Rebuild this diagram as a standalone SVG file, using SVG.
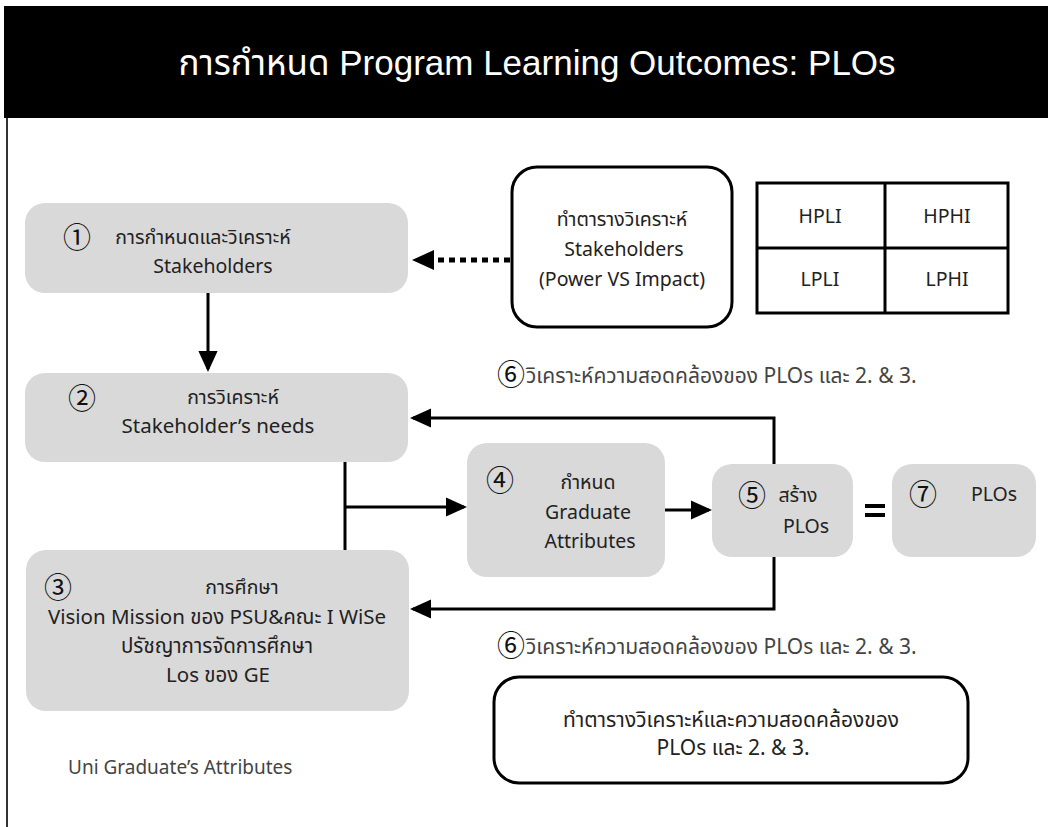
<svg xmlns="http://www.w3.org/2000/svg" width="1048" height="827" viewBox="0 0 1048 827">
<style>
text{font-family:"Noto Sans Thai","Noto Sans","Liberation Sans","DejaVu Sans",sans-serif;fill:#222;font-size:19.5px;text-anchor:middle;dominant-baseline:central}
.num{font-family:"Noto Sans CJK JP","DejaVu Sans",sans-serif;font-size:28px;fill:#111}
.node{fill:#d9d9d9}
.box{fill:#fff;stroke:#000;stroke-width:3}
.ln{fill:none;stroke:#000;stroke-width:3}
.title{fill:#fff;font-size:35px;font-family:"Liberation Sans","Noto Sans Thai",sans-serif}
.note{fill:#444;font-size:21px;text-anchor:start}
.big{font-size:20.5px}
</style>
<defs>
<marker id="ah" markerWidth="7" markerHeight="7" refX="6" refY="3.5" orient="auto" markerUnits="strokeWidth">
<path d="M0,0.3 L7,3.5 L0,6.7 Z" fill="#000"/>
</marker>
</defs>
<rect width="1048" height="827" fill="#fff"/>
<g id="header">
<rect x="4" y="6" width="1044" height="112" fill="#000"/>
<text class="title" x="537" y="62">การกำหนด Program Learning Outcomes: PLOs</text>
</g>
<line x1="7" y1="118" x2="7" y2="827" stroke="#333" stroke-width="2"/>

<g id="connectors">
<line class="ln" x1="208" y1="293" x2="208" y2="369" marker-end="url(#ah)"/>
<line x1="510" y1="260" x2="432" y2="260" stroke="#000" stroke-width="5" stroke-dasharray="6,5"/>
<path d="M412,260 L434,250 L434,270 Z" fill="#000"/>
<path class="ln" d="M345,462 V550"/>
<line class="ln" x1="345" y1="507" x2="464" y2="507" marker-end="url(#ah)"/>
<line class="ln" x1="665" y1="510" x2="709" y2="510" marker-end="url(#ah)"/>
<path class="ln" d="M774,464 V418 H413" marker-end="url(#ah)"/>
<path class="ln" d="M774,557 V609 H413" marker-end="url(#ah)"/>
</g>

<g id="node1">
<rect class="node" x="25" y="203" width="383" height="90" rx="20"/>
<text class="num" x="77" y="236">①</text>
<text x="203" y="238">การกำหนดและวิเคราะห์</text>
<text x="213" y="267">Stakeholders</text>
</g>

<g id="stakeholder-table-box">
<rect class="box" x="512" y="167" width="220" height="160" rx="25"/>
<text x="622" y="220">ทำตารางวิเคราะห์</text>
<text x="624" y="250">Stakeholders</text>
<text x="622" y="280">(Power VS Impact)</text>
</g>

<g id="matrix">
<rect x="757" y="183" width="251" height="130" fill="#fff" stroke="#000" stroke-width="3"/>
<line x1="885" y1="183" x2="885" y2="313" stroke="#000" stroke-width="3"/>
<line x1="757" y1="248" x2="1008" y2="248" stroke="#000" stroke-width="3"/>
<text x="820" y="217" font-size="20">HPLI</text>
<text x="947" y="217" font-size="20">HPHI</text>
<text x="820" y="280" font-size="20">LPLI</text>
<text x="947" y="280" font-size="20">LPHI</text>
</g>

<g id="label6-top">
<text class="num" x="511" y="373">⑥</text>
<text class="note" x="526" y="376">วิเคราะห์ความสอดคล้องของ PLOs และ 2. &amp; 3.</text>
</g>

<g id="node2">
<rect class="node" x="25" y="373" width="383" height="89" rx="20"/>
<text class="num" x="82" y="397">②</text>
<text x="233" y="398">การวิเคราะห์</text>
<text class="big" x="218" y="426">Stakeholder’s needs</text>
</g>

<g id="node4">
<rect class="node" x="467" y="443" width="198" height="134" rx="20"/>
<text class="num" x="500" y="479">④</text>
<text x="588" y="483">กำหนด</text>
<text x="588" y="513">Graduate</text>
<text x="590" y="542">Attributes</text>
</g>

<g id="node5">
<rect class="node" x="712" y="464" width="141" height="93" rx="20"/>
<text class="num" x="752" y="494">⑤</text>
<text x="798" y="496">สร้าง</text>
<text x="806" y="527">PLOs</text>
</g>

<g id="equals">
<rect x="865" y="504" width="20" height="4" fill="#000"/>
<rect x="865" y="513" width="20" height="4" fill="#000"/>
</g>

<g id="node7">
<rect class="node" x="892" y="464" width="144" height="93" rx="20"/>
<text class="num" x="923" y="493">⑦</text>
<text x="994" y="495">PLOs</text>
</g>

<g id="node3">
<rect class="node" x="26" y="550" width="383" height="161" rx="20"/>
<text class="num" x="58" y="586">③</text>
<text x="242" y="588">การศึกษา</text>
<text class="big" x="217" y="617">Vision Mission ของ PSU&amp;คณะ I WiSe</text>
<text class="big" x="217" y="646">ปรัชญาการจัดการศึกษา</text>
<text class="big" x="218" y="675">Los ของ GE</text>
</g>

<g id="label6-bottom">
<text class="num" x="511" y="644">⑥</text>
<text class="note" x="526" y="647">วิเคราะห์ความสอดคล้องของ PLOs และ 2. &amp; 3.</text>
</g>

<g id="bottom-box">
<rect class="box" x="494" y="677" width="474" height="106" rx="25"/>
<text x="731" y="720" style="font-size:21px">ทำตารางวิเคราะห์และความสอดคล้องของ</text>
<text x="733" y="748" style="font-size:21px">PLOs และ 2. &amp; 3.</text>
</g>

<text class="note" x="68" y="768" style="font-size:19px">Uni Graduate’s Attributes</text>
</svg>
